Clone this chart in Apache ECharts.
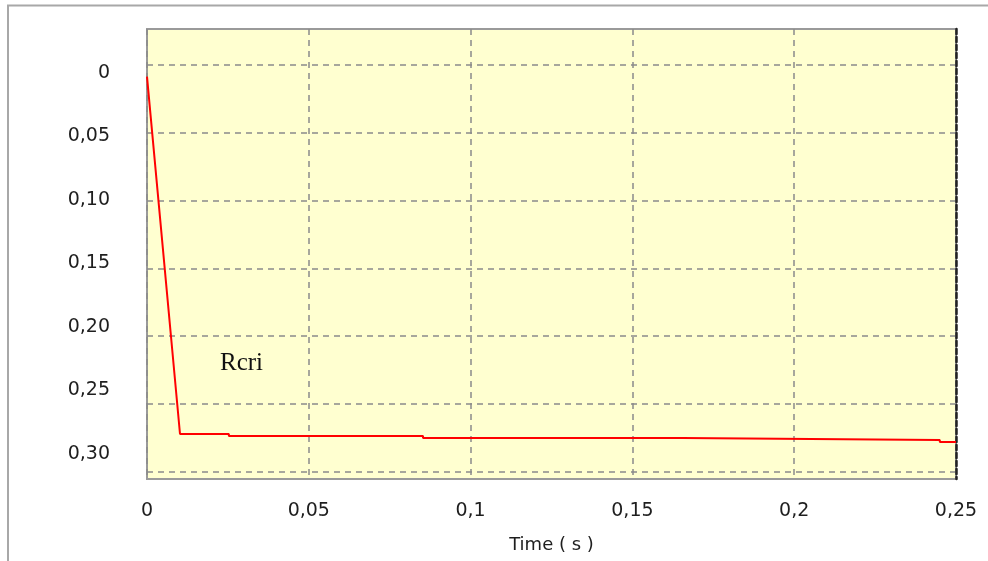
<!DOCTYPE html>
<html>
<head>
<meta charset="utf-8">
<title>Rcri</title>
<script src="https://cdn.jsdelivr.net/npm/echarts@6/dist/echarts.min.js"></script>
<style>
  html, body { margin: 0; padding: 0; background: #ffffff; }
  #chart { width: 988px; height: 561px; }
</style>
</head>
<body>
<div id="chart"></div>
<script>
// Rcri response over time (values in the axis units shown)
const timeValues = [0, 0.0102, 0.0253, 0.0253, 0.0853, 0.0853, 0.1654, 0.1654, 0.2450, 0.2450, 0.25];
const rcriValues = [0.0086, 0.2722, 0.2722, 0.2737, 0.2737, 0.2752, 0.2752, 0.2766, 0.2766, 0.2781, 0.2781];

// Axis ticks and their printed labels
const xTickValues = [0, 0.05, 0.1, 0.15, 0.2, 0.25];
const xTickLabels = ['0', '0,05', '0,1', '0,15', '0,2', '0,25'];
const yTickValues = [0, 0.05, 0.10, 0.15, 0.20, 0.25, 0.30];
const yTickLabels = ['0', '0,05', '0,10', '0,15', '0,20', '0,25', '0,30'];

const seriesName = 'Rcri';
const xAxisTitle = 'Time ( s )';

function lookup(values, labels, v) {
  for (let i = 0; i < values.length; i++) {
    if (Math.abs(values[i] - v) < 1e-9) return labels[i];
  }
  return '';
}

const gridLine = { color: '#8a8a8a', width: 1.5, type: [6, 5] };
const tickFont = { fontFamily: 'DejaVu Sans', fontSize: 19, color: '#1e1e1e' };

const chart = echarts.init(document.getElementById('chart'), null, { renderer: 'canvas' });

chart.setOption({
  animation: false,
  backgroundColor: '#ffffff',
  grid: {
    left: 147, top: 29, width: 809, height: 450,
    show: true,
    backgroundColor: '#ffffd0',
    borderColor: '#9a9a9a',
    borderWidth: 2
  },
  xAxis: {
    type: 'value',
    min: 0, max: 0.25, interval: 0.05,
    name: xAxisTitle,
    nameLocation: 'middle',
    nameGap: 57,
    nameTextStyle: { fontFamily: 'DejaVu Sans', fontSize: 18, color: '#1e1e1e' },
    axisLine: { show: false },
    axisTick: { show: false },
    axisLabel: Object.assign({
      margin: 23,
      showMinLabel: true,
      showMaxLabel: true,
      formatter: v => lookup(xTickValues, xTickLabels, v)
    }, tickFont),
    splitLine: { show: true, lineStyle: gridLine }
  },
  yAxis: [
    {
      // data axis: carries the series, the grid lines and the dashed right edge
      type: 'value',
      position: 'right',
      inverse: true,
      min: -0.0266, max: 0.3054,
      axisLine: { show: true, onZero: false, lineStyle: { color: '#222222', width: 2.5, type: [5, 3] } },
      axisTick: { show: false, customValues: yTickValues },
      axisLabel: { show: false },
      splitLine: { show: true, lineStyle: gridLine }
    },
    {
      // printed value scale on the left
      type: 'value',
      position: 'left',
      inverse: true,
      min: -0.0345, max: 0.3198,
      axisLine: { show: false },
      axisTick: { show: false },
      splitLine: { show: false },
      axisLabel: Object.assign({
        margin: 37,
        customValues: yTickValues,
        formatter: v => lookup(yTickValues, yTickLabels, v)
      }, tickFont)
    }
  ],
  series: [
    {
      name: seriesName,
      type: 'line',
      yAxisIndex: 0,
      data: timeValues.map((t, i) => [t, rcriValues[i]]),
      showSymbol: false,
      symbol: 'none',
      lineStyle: { color: '#ff0000', width: 2 },
      z: 5
    }
  ],
  graphic: [
    {
      type: 'rect',
      silent: true,
      z: -10,
      shape: { x: 8, y: 5.5, width: 1100, height: 700 },
      style: { fill: 'none', stroke: '#a8a8a8', lineWidth: 2 }
    },
    {
      type: 'text',
      silent: true,
      z: 10,
      x: 241.5,
      y: 363,
      style: {
        text: seriesName,
        font: '25px "Liberation Serif"',
        fill: '#111111',
        align: 'center',
        verticalAlign: 'middle'
      }
    }
  ]
});
</script>
</body>
</html>
